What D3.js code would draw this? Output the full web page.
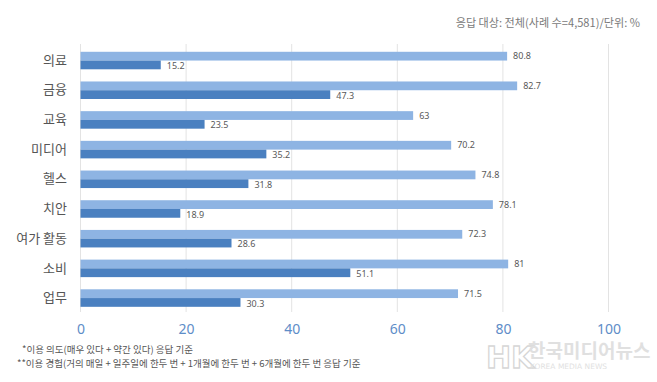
<!DOCTYPE html>
<html>
<head>
<meta charset="utf-8">
<script src="https://cdn.jsdelivr.net/npm/d3@7"></script>
<style>
  html, body { margin: 0; padding: 0; background: #fff; }
  svg { display: block; font-family: "Noto Sans CJK KR", "Noto Sans", sans-serif; }
</style>
</head>
<body>
<svg id="chart" width="657" height="382"></svg>
<script>
const categories = ["의료", "금융", "교육", "미디어", "헬스", "치안", "여가 활동", "소비", "업무"];
const intentValues = [80.8, 82.7, 63, 70.2, 74.8, 78.1, 72.3, 81, 71.5];
const experienceValues = [15.2, 47.3, 23.5, 35.2, 31.8, 18.9, 28.6, 51.1, 30.3];
const xTicks = [0, 20, 40, 60, 80, 100];
const titleText = "응답 대상: 전체(사례 수=4,581)/단위: %";
const footnotes = [
  "*이용 의도(매우 있다 + 약간 있다) 응답 기준",
  "**이용 경험(거의 매일 + 일주일에 한두 번 + 1개월에 한두 번 + 6개월에 한두 번 응답 기준"
];

const svg = d3.select("#chart");
const lightColor = "#8EB4E3";
const darkColor = "#4A80C0";

const x = d3.scaleLinear().domain([0, 100]).range([80.5, 608.5]);
const y = d3.scaleBand().domain(categories).range([45.7, 312.9]).paddingInner(0.41).paddingOuter(0.205);
const sub = d3.scaleBand().domain(["intent", "exp"]).range([0, y.bandwidth()]);

// gridlines
svg.append("g")
  .selectAll("line")
  .data(xTicks)
  .join("line")
  .attr("x1", d => x(d)).attr("x2", d => x(d))
  .attr("y1", 44).attr("y2", 312)
  .attr("stroke", "#e3e3e3").attr("stroke-width", 1);

// x axis labels
const xAxis = d3.axisBottom(x).tickValues(xTicks).tickSize(0).tickPadding(0);
const xg = svg.append("g").attr("transform", "translate(0,324)").call(xAxis);
xg.select(".domain").remove();
xg.selectAll("text").attr("fill", "#5E8DC8").attr("font-size", 14)
  .attr("font-family", "\"Noto Sans\", sans-serif");

// y axis labels
const yAxis = d3.axisLeft(y).tickSize(0).tickPadding(0);
const yg = svg.append("g").attr("transform", "translate(67,0)").call(yAxis);
yg.select(".domain").remove();
yg.selectAll("text").attr("fill", "#555555").attr("font-size", 13)
  .attr("font-family", "\"Noto Sans CJK KR\", sans-serif");

const rows = categories.map((c, i) => ({ c, intent: intentValues[i], exp: experienceValues[i] }));

// light bars
svg.append("g").selectAll("rect")
  .data(rows).join("rect")
  .attr("x", x(0))
  .attr("y", d => y(d.c) + sub("intent"))
  .attr("width", d => x(d.intent) - x(0))
  .attr("height", sub.bandwidth())
  .attr("fill", lightColor);

// dark bars
svg.append("g").selectAll("rect")
  .data(rows).join("rect")
  .attr("x", x(0))
  .attr("y", d => y(d.c) + sub("exp"))
  .attr("width", d => x(d.exp) - x(0))
  .attr("height", sub.bandwidth())
  .attr("fill", darkColor);

// value labels
const labelFont = "\"Noto Sans\", sans-serif";
svg.append("g").selectAll("text")
  .data(rows).join("text")
  .attr("x", d => x(d.intent) + 6)
  .attr("y", d => y(d.c) + sub("intent") + sub.bandwidth() / 2)
  .attr("dy", "0.35em")
  .attr("font-size", 9).attr("fill", "#595959").attr("font-family", labelFont)
  .text(d => d.intent);

svg.append("g").selectAll("text")
  .data(rows).join("text")
  .attr("x", d => x(d.exp) + 6)
  .attr("y", d => y(d.c) + sub("exp") + sub.bandwidth() / 2 + 1)
  .attr("dy", "0.35em")
  .attr("font-size", 9).attr("fill", "#595959").attr("font-family", labelFont)
  .text(d => d.exp);

// title
svg.append("text")
  .attr("x", 640).attr("y", 27)
  .attr("text-anchor", "end")
  .attr("font-size", 11.1).attr("fill", "#7a7a7a")
  .text(titleText);

// footnotes
svg.append("text").attr("x", 22).attr("y", 353)
  .attr("font-size", 9.5).attr("fill", "#555").text(footnotes[0]);
svg.append("text").attr("x", 17).attr("y", 366.5)
  .attr("font-size", 9.5).attr("fill", "#555").text(footnotes[1]);

// watermark
const wm = svg.append("g").attr("opacity", 0.55);
wm.append("text").attr("x", 486).attr("y", 368)
  .attr("font-size", 30).attr("font-weight", "bold")
  .attr("fill", "none").attr("stroke", "#b5b5b5").attr("stroke-width", 1.3)
  .attr("font-family", "\"DejaVu Sans\", sans-serif")
  .text("HK");
wm.append("text").attr("x", 528).attr("y", 358)
  .attr("font-size", 19).attr("font-weight", "bold")
  .attr("fill", "#c8c8c8")
  .text("한국미디어뉴스");
wm.append("text").attr("x", 530).attr("y", 369)
  .attr("font-size", 7.5).attr("fill", "#c8c8c8")
  .attr("font-family", "\"DejaVu Sans\", sans-serif")
  .text("KOREA MEDIA NEWS");
</script>
</body>
</html>
